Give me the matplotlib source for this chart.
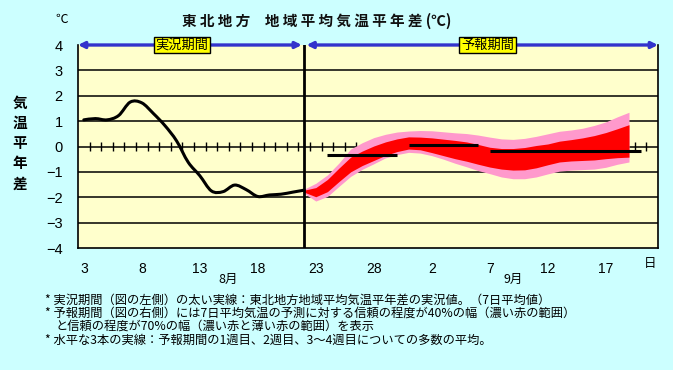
import numpy as np
import matplotlib
matplotlib.use('Agg')
import matplotlib.pyplot as plt
from matplotlib.path import Path
from matplotlib.patches import PathPatch

plt.rcParams['font.family'] = ['Noto Sans CJK JP', 'DejaVu Sans']

# 日インデックス: 0 = 8月3日 ... 49 = 9月21日
tick_days = [0, 5, 10, 15, 20, 25, 30, 35, 40, 45]
tick_labels = ['3', '8', '13', '18', '23', '28', '2', '7', '12', '17']

# 実況値(7日平均, 8/3〜8/22)
obs_days = np.arange(0, 20)
obs_vals = [1.05, 1.10, 1.05, 1.22, 1.75, 1.72, 1.30, 0.82, 0.22, -0.62,
            -1.15, -1.75, -1.78, -1.52, -1.70, -1.97, -1.91, -1.88, -1.80, -1.72]

# 予報期間(8/22〜9/19)の信頼幅
fc_days = np.arange(19, 48)
p70_hi = [-1.68, -1.45, -1.12, -0.65, -0.10, 0.15, 0.35, 0.48, 0.57, 0.61,
          0.63, 0.62, 0.58, 0.54, 0.51, 0.45, 0.37, 0.30, 0.28, 0.32,
          0.40, 0.50, 0.60, 0.65, 0.72, 0.83, 0.97, 1.17, 1.35]
p40_hi = [-1.72, -1.62, -1.30, -0.85, -0.42, -0.18, 0.02, 0.18, 0.30, 0.38,
          0.37, 0.34, 0.29, 0.24, 0.18, 0.08, -0.03, -0.08, -0.08, -0.04,
          0.04, 0.10, 0.21, 0.27, 0.34, 0.43, 0.55, 0.70, 0.86]
p40_lo = [-1.80, -1.98, -1.78, -1.38, -1.00, -0.75, -0.55, -0.35, -0.20, -0.10,
          -0.13, -0.24, -0.36, -0.48, -0.58, -0.70, -0.81, -0.89, -0.93, -0.92,
          -0.84, -0.72, -0.61, -0.57, -0.55, -0.53, -0.48, -0.44, -0.42]
p70_lo = [-1.85, -2.15, -1.97, -1.57, -1.18, -0.90, -0.68, -0.45, -0.32, -0.23,
          -0.26, -0.36, -0.50, -0.66, -0.80, -0.95, -1.07, -1.20, -1.27, -1.27,
          -1.20, -1.08, -0.97, -0.93, -0.91, -0.89, -0.82, -0.70, -0.61]

# 1週目、2週目、3〜4週目の平均
week_start = [21, 28, 35]
week_end = [27, 34, 48]
week_mean = [-0.33, 0.07, -0.18]

notes = [
    (45, 300, '* 実況期間（図の左側）の太い実線：東北地方地域平均気温平年差の実況値。（7日平均値）'),
    (45, 313, '* 予報期間（図の右側）には7日平均気温の予測に対する信頼の程度が40%の幅（濃い赤の範囲）'),
    (56, 326, 'と信頼の程度が70%の幅（濃い赤と薄い赤の範囲）を表示'),
    (45, 340, '* 水平な3本の実線：予報期間の1週目、2週目、3～4週目についての多数の平均。'),
]


def smooth_path(x, y):
    """Excel風の平滑線(ベジェ曲線)"""
    p = np.column_stack([x, y]).astype(float)
    verts = [p[0]]
    codes = [Path.MOVETO]
    for i in range(len(p) - 1):
        p0 = p[max(i - 1, 0)]
        p3 = p[min(i + 2, len(p) - 1)]
        c1 = p[i] + (p[i + 1] - p0) / 6
        c2 = p[i + 1] - (p3 - p[i]) / 6
        verts += [c1, c2, p[i + 1]]
        codes += [Path.CURVE4] * 3
    return Path(verts, codes)


W, H = 673, 370
fig = plt.figure(figsize=(W / 100, H / 100), dpi=100, facecolor='#CCFFFF')
ax = fig.add_axes([78 / W, 1 - 248 / H, 580 / W, 203 / H], facecolor='#FFFFCC')
ax.set_xlim(-0.5, 49.5)
ax.set_ylim(-4, 4)

# 格子線と0線の目盛
for v in [-3, -2, -1, 1, 2, 3]:
    ax.axhline(v, color='black', lw=1.1, zorder=1)
ax.axhline(0, color='black', lw=1.1, zorder=1)
ax.vlines(np.arange(0.5, 49), -0.18, 0.18, color='black', lw=1, zorder=1)

# 信頼幅
ax.fill_between(fc_days, p70_lo, p70_hi, color='#FF99CC', lw=0, zorder=2)
ax.fill_between(fc_days, p40_lo, p40_hi, color='#FF0000', lw=0, zorder=3)

# 週平均
ax.hlines(week_mean, week_start, week_end, color='black', lw=2.2, zorder=4)

# 実況
ax.add_patch(PathPatch(smooth_path(obs_days, obs_vals), fc='none', ec='black',
                       lw=2.2, zorder=5, capstyle='round', joinstyle='round'))

# 実況/予報の境界
ax.axvline(19, color='black', lw=2, zorder=6)

for s in ['left', 'right', 'bottom']:
    ax.spines[s].set_color('black')
    ax.spines[s].set_linewidth(1.2)
ax.spines['top'].set_visible(False)

ax.set_yticks(range(-4, 5))
ax.set_yticklabels([str(v).replace('-', '−') for v in range(-4, 5)],
                   family=['Liberation Sans', 'DejaVu Sans'])
ax.set_xticks(tick_days)
ax.set_xticklabels(tick_labels, family=['Liberation Sans', 'DejaVu Sans'])
ax.tick_params(axis='y', length=0, pad=11, labelsize=10.5)
ax.tick_params(axis='x', length=0, pad=10, labelsize=10)

# 期間を示す矢印
arrow = dict(arrowstyle='<|-|>', color='#3333CC', lw=2.4, mutation_scale=9,
             shrinkA=0, shrinkB=0)
ax.annotate('', xy=(-0.5, 4), xytext=(18.8, 4), arrowprops=arrow,
            annotation_clip=False, zorder=7)
ax.annotate('', xy=(19.2, 4), xytext=(49.5, 4), arrowprops=arrow,
            annotation_clip=False, zorder=7)
box = dict(boxstyle='square,pad=0.12', fc='#FFFF00', ec='black', lw=1)
ax.text(104 / 580, 1.0, '実況期間', transform=ax.transAxes, ha='center',
        va='center', fontsize=9.5, bbox=box, zorder=8)
ax.text(409.5 / 580, 1.0, '予報期間', transform=ax.transAxes, ha='center',
        va='center', fontsize=9.5, bbox=box, zorder=8)

# 文字
fig.text(317 / W, 1 - 21 / H, '東 北 地 方　地 域 平 均 気 温 平 年 差 (℃)',
         fontsize=10.5, fontweight='bold', ha='center', va='center',
         color='#111111')
fig.text(62 / W, 1 - 19 / H, '℃', fontsize=9, ha='center', va='center')
fig.text(20 / W, 1 - 143 / H, '気\n温\n平\n年\n差', fontsize=10.5,
         fontweight='bold', ha='center', va='center', linespacing=1.32)
fig.text(228 / W, 1 - 279 / H, '8月', fontsize=9, ha='center', va='center')
fig.text(513 / W, 1 - 279 / H, '9月', fontsize=9, ha='center', va='center')
fig.text(650 / W, 1 - 264 / H, '日', fontsize=9, ha='center', va='center')

for x, y, t in notes:
    fig.text(x / W, 1 - y / H, t, fontsize=8.8, ha='left', va='center')

fig.savefig('out.png', dpi=100, facecolor=fig.get_facecolor())
